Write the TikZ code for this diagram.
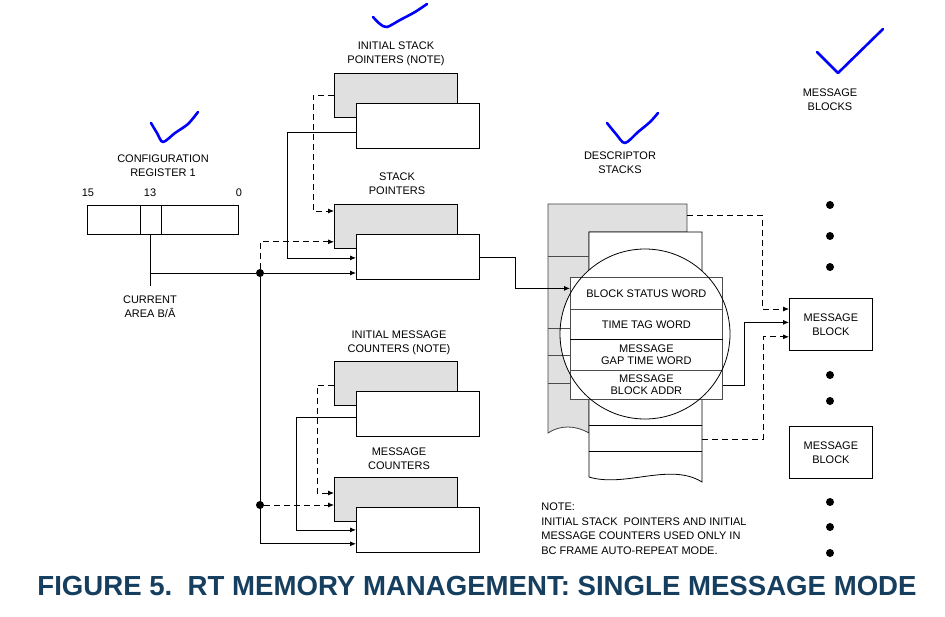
\documentclass[tikz,border=0pt]{standalone}
\usepackage{fontspec}
\setmainfont{Liberation Sans}
\usetikzlibrary{arrows.meta}
\definecolor{titleblue}{RGB}{22,63,95}
\definecolor{boxgray}{RGB}{224,224,224}
\begin{document}
\begin{tikzpicture}[x=1pt, y=-1pt, line width=0.8pt, >={Latex[length=6pt,width=5pt]},
	lbl/.style = {align=center, font=\fontsize{11}{14}\selectfont, inner sep=0pt},
	wbox/.style = {draw, fill=white, anchor=north west, inner sep=0pt},
	gbox/.style = {draw, fill=boxgray, anchor=north west, inner sep=0pt, minimum width=123pt, minimum height=44pt},
	pbox/.style = {wbox, minimum width=123pt, minimum height=45pt},
	word/.style = {draw=black!70, fill=white, anchor=north west, minimum width=152pt, inner sep=0pt, align=center, font=\fontsize{11}{12}\selectfont},
	dashedline/.style = {dash pattern=on 6pt off 4pt},
	dot/.style = {circle, fill, inner sep=0pt, minimum size=8pt},
	tick/.style = {blue, line width=2.6pt, line cap=round, line join=round}]
	\useasboundingbox (0,0) rectangle (945,616);

	\node[lbl] (cfglabel) at (163,166) {CONFIGURATION\\REGISTER 1};
	\node[lbl] (b15) at (88,193) {15};
	\node[lbl] (b13label) at (150,193) {13};
	\node[lbl] (b0) at (239,193) {0};
	\node[wbox, minimum width=151pt, minimum height=29pt] (cfg) at (87,205) {};
	\draw ([xshift=53pt]cfg.north west) -- ([xshift=53pt]cfg.south west);
	\draw ([xshift=74pt]cfg.north west) -- ([xshift=74pt]cfg.south west);
	\coordinate (b13) at ([xshift=63pt]cfg.south west);
	\node[lbl] (area) at (150,307) {CURRENT\\AREA B/Ā};

	\node[lbl] (isplabel) at (396,54) {INITIAL STACK\\POINTERS (NOTE)};
	\node[gbox] (ispg) at (334,73) {};
	\node[pbox] (ispw) at (356,103) {};
	\node[lbl] (splabel) at (397,184) {STACK\\POINTERS};
	\node[gbox] (spg) at (334,204) {};
	\node[pbox] (spw) at (356,234) {};

	\node[lbl] (imclabel) at (399,343) {INITIAL MESSAGE\\COUNTERS (NOTE)};
	\node[gbox] (imcg) at (334,361) {};
	\node[pbox] (imcw) at (356,391) {};
	\node[lbl] (mclabel) at (399,459) {MESSAGE\\COUNTERS};
	\node[gbox] (mcg) at (334,477) {};
	\node[pbox] (mcw) at (356,507) {};

	\node[dot] (j1) at (260,273) {};
	\node[dot] (j2) at (260,505) {};

	\draw (b13) -- ++(0,51);
	\draw (b13 |- j1) -- (j1);
	\draw[->] (j1) -- (j1 -| spw.west);
	\draw[->, dashedline] (j1) |- ([yshift=7pt]spg.south west);
	\draw[->] (j1) |- ([yshift=9pt]mcw.south west);
	\draw[->, dashedline] (j2) -- (j2 -| mcg.west);
	\draw[->, dashedline] (ispg.west) -- ++(-21,0) |- ([yshift=-7pt]spg.north west);
	\draw[->] ([yshift=-6pt]ispw.west) -- ++(-69,0) |- ([yshift=-1pt]spw.west);
	\draw[->, dashedline] ([yshift=-2pt]imcg.west) -- ++(-17,0) |- ([yshift=-16pt]mcg.north west);
	\draw[->] ([yshift=-3pt]imcw.west) -- ++(-60,0) |- (mcw.west);

	\node[lbl] (dslabel) at (620,163) {DESCRIPTOR\\STACKS};
	\draw[fill=boxgray, draw=black!75] (589,433) .. controls (575,425) and (560,425) .. (548,433) -- (548,204) -- (687,204) -- (687,232) -- (589,232) -- cycle;
	\draw[fill=white] (589,232) -- (702,232) -- (702,482) .. controls (670,462) and (625,488) .. (589,477) -- cycle;
	\draw (589,425) -- (702,425);
	\draw (589,451) -- (702,451);
	\coordinate (dsg) at (687,215);
	\coordinate (dsw) at (702,439);
	\fill[white] (645,334) circle[radius=85pt];
	\draw[black!70] (548,256) -- (589,256);
	\foreach \y in {328,355,383}
		\draw[black!70] (548,\y) -- (570,\y);
	\node[word, minimum height=32pt] (bsw) at (570,277) {BLOCK STATUS WORD};
	\node[word, minimum height=30pt] (ttw) at (570,309) {TIME TAG WORD};
	\node[word, minimum height=31pt] (gtw) at (570,339) {MESSAGE\\GAP TIME WORD};
	\node[word, minimum height=29pt] (mba) at (570,370) {MESSAGE\\BLOCK ADDR};
	\draw (ttw.south west) -- (ttw.south east);
	\draw (645,334) circle[radius=85pt];
	\draw[->] (spw.east) -- ++(36,0) |- ([yshift=5pt]bsw.west);

	\node[lbl] (mblabel) at (830,100) {MESSAGE\\BLOCKS};
	\node[wbox, lbl, minimum width=83pt, minimum height=52pt] (mb1) at (789,298) {MESSAGE\\BLOCK};
	\node[wbox, lbl, minimum width=83pt, minimum height=52pt] (mb2) at (789,426) {MESSAGE\\BLOCK};
	\foreach \y in {205,236,267,375,401,502,527,553}
		\fill (830,\y) circle[radius=4pt];
	\draw[->, dashedline] (dsg) -- ++(75,0) |- ([yshift=-11pt]mb1.north west);
	\draw[->] (mba.east) -- ++(22,0) |- ([yshift=2pt]mb1.west);
	\draw[->, dashedline] (dsw) -- ++(61,0) |- ([yshift=14pt]mb1.south west);

	\node[lbl, anchor=west] (note) at (541,507) {NOTE:};
	\node[lbl, anchor=north west, align=left, font=\fontsize{11}{14.5}\selectfont] (notetext) at (541,517) {INITIAL STACK\ \ POINTERS AND INITIAL\\MESSAGE COUNTERS USED ONLY IN\\BC FRAME AUTO-REPEAT MODE.};

	\node[font=\fontsize{27.6}{30}\selectfont\bfseries, text=titleblue, inner sep=0pt] (title) at (477,586) {FIGURE 5.\ \ RT MEMORY MANAGEMENT: SINGLE MESSAGE MODE};

	\draw[tick] plot[smooth] coordinates {(151,123) (157,133) (163,142) (175,133) (188,124) (198,112)};
	\draw[tick] plot[smooth] coordinates {(373,17) (380,24) (387,27) (400,20) (415,12) (427,4)};
	\draw[tick] plot[smooth] coordinates {(607,123) (616,134) (625,143) (638,132) (650,122) (658,113)};
	\draw[tick] (817,52) -- (838,73) -- (883,29);
\end{tikzpicture}
\end{document}
